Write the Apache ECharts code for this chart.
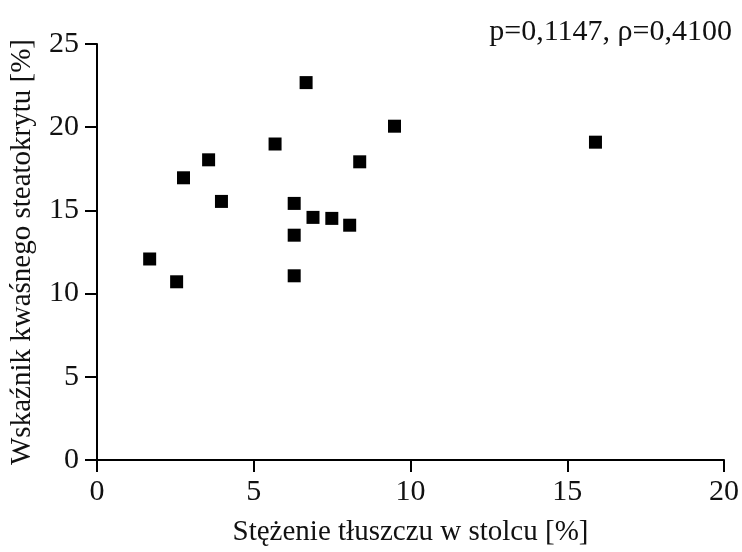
<!DOCTYPE html>
<html><head><meta charset="utf-8">
<script src="https://cdn.jsdelivr.net/npm/echarts@6/dist/echarts.min.js"></script>
<style>html,body{margin:0;padding:0;background:#fff}#c{width:742px;height:552px}</style>
</head><body><div id="c"></div>
<script>
const xValues = [1.68, 2.54, 2.76, 3.56, 3.97, 5.68, 6.67, 6.29, 6.29, 6.29, 6.89, 7.49, 8.06, 8.38, 9.49, 15.9];
const yValues = [12.08, 10.71, 16.96, 18.04, 15.54, 18.99, 22.68, 15.42, 13.51, 11.07, 14.58, 14.52, 14.11, 17.92, 20.06, 19.1];
const xTitle = 'Stężenie tłuszczu w stolcu [%]';
const yTitle = 'Wskaźnik kwaśnego steatokrytu [%]';
const annotation = 'p=0,1147, ρ=0,4100';

const font = 'Liberation Serif';
const chart = echarts.init(document.getElementById('c'));
const axisCommon = {
  axisLine: {show: true, onZero: false, lineStyle: {color: '#000', width: 2}},
  axisTick: {show: true, length: 12, lineStyle: {color: '#000', width: 2}},
  splitLine: {show: false},
  axisLabel: {color: '#111', fontFamily: font, fontSize: 30},
  nameTextStyle: {color: '#111', fontFamily: font, fontSize: 29}
};
chart.setOption({
  animation: false,
  title: {text: annotation, right: 5, top: 12,
    textStyle: {fontFamily: font, fontSize: 30, fontWeight: 'normal', color: '#111'}},
  grid: {left: 97, right: 13, top: 44, bottom: 89, containLabel: false},
  xAxis: Object.assign({}, axisCommon, {
    type: 'value', min: 0, max: 20, interval: 5,
    name: xTitle, nameLocation: 'middle', nameGap: 58,
    axisLabel: Object.assign({}, axisCommon.axisLabel, {margin: 17})
  }),
  yAxis: Object.assign({}, axisCommon, {
    type: 'value', min: 0, max: 25, interval: 5,
    name: yTitle, nameLocation: 'middle', nameGap: 60,
    axisLabel: Object.assign({}, axisCommon.axisLabel, {margin: 18})
  }),
  series: [{
    type: 'scatter',
    symbol: 'rect', symbolSize: 13,
    itemStyle: {color: '#000', opacity: 1},
    data: xValues.map((x, i) => [x, yValues[i]])
  }]
});
</script></body></html>
